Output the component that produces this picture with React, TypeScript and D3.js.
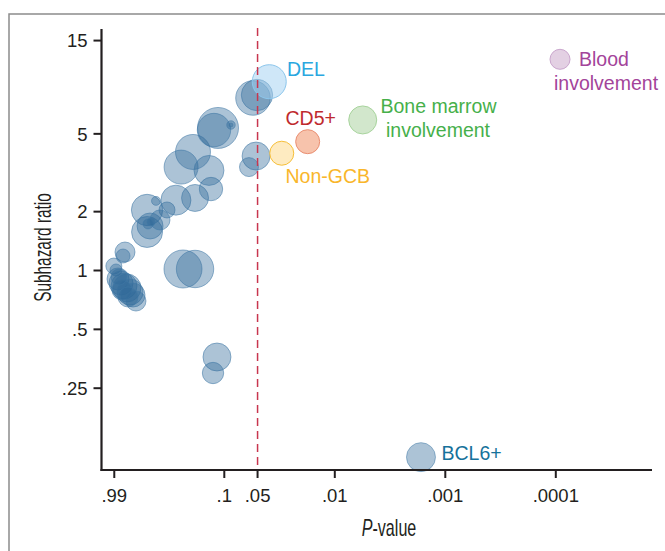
import React from "react";
import * as d3 from "d3";

// ---- data ----
const basePValues = [
  0.999, 0.955, 0.792, 0.825, 0.916, 0.861, 0.809, 0.76, 0.713, 0.67, 0.63, 0.843, 0.744, 0.897,
  0.5, 0.415, 0.33, 0.274, 0.184, 0.132, 0.5, 0.47, 0.382, 0.49, 0.461,
  0.192, 0.246, 0.1376, 0.114, 0.124, 0.087, 0.087, 0.055, 0.0506, 0.0516, 0.0598,
  0.2365, 0.184, 0.1165, 0.1265,
];
const baseRatios = [
  1.054, 1.006, 1.243, 1.186, 0.905, 0.863, 0.833, 0.814, 0.776, 0.749, 0.698, 0.795, 0.732, 0.926,
  2.04, 2.27, 2.04, 2.29, 2.35, 2.61, 1.574, 1.689, 1.813, 1.73, 1.77,
  4.04, 3.38, 3.25, 5.36, 5.23, 5.55, 5.55, 7.63, 7.9, 3.85, 3.38,
  1.018, 1.018, 0.361, 0.299,
];
const baseSizes = [
  64, 36, 100, 49, 121, 144, 169, 196, 169, 144, 100, 100, 100, 64,
  246, 20, 64, 225, 182, 137, 240, 169, 100, 25, 16,
  306, 289, 225, 420, 279, 18, 4, 299, 246, 196, 90,
  361, 350, 196, 114,
];

const labelNames = ["BCL6+", "DEL", "CD5+", "Non-GCB", "Bone marrow involvement", "Blood involvement"];
const labelPValues = [0.00166, 0.0392, 0.0176, 0.0302, 0.00559, 0.0000916];
const labelRatios = [0.111, 9.24, 4.56, 3.98, 5.89, 12.03];
const labelSizes = [210, 289, 144, 144, 196, 100];

const xTickValues = [0.99, 0.1, 0.05, 0.01, 0.001, 0.0001];
const xTickLabels = [".99", ".1", ".05", ".01", ".001", ".0001"];
const yTickValues = [15, 5, 2, 1, 0.5, 0.25];
const yTickLabels = ["15", "5", "2", "1", ".5", ".25"];
const significance = 0.05;

// ---- styles ----
const FONT = "'Liberation Sans', Arial, Helvetica, sans-serif";
const labelStyles = [
  { fill: "#2f6a99", fillOpacity: 0.4, stroke: "#4a82ab", text: "#16729b" },
  { fill: "#9fd0f2", fillOpacity: 0.5, stroke: "#8cc6ec", text: "#2aa7df" },
  { fill: "#f7c0a8", fillOpacity: 0.95, stroke: "#ea8f72", text: "#bf2a2e" },
  { fill: "#feeabe", fillOpacity: 0.95, stroke: "#f6bf3a", text: "#f9b62b" },
  { fill: "#d0e6c9", fillOpacity: 0.95, stroke: "#a8d49d", text: "#46b04a" },
  { fill: "#e1cde2", fillOpacity: 0.95, stroke: "#caa6cd", text: "#a3449a" },
];
// text layout per line
const labelLayout = [
  [{ t: "BCL6+", x: 441.5, y: 459.5, a: "start" }],
  [{ t: "DEL", x: 287, y: 76, a: "start" }],
  [{ t: "CD5+", x: 285.5, y: 124.5, a: "start" }],
  [{ t: "Non-GCB", x: 285.5, y: 182.7, a: "start" }],
  [
    { t: "Bone marrow", x: 438.5, y: 112.7, a: "middle" },
    { t: "involvement", x: 438, y: 136.7, a: "middle" },
  ],
  [
    { t: "Blood", x: 579, y: 66, a: "start" },
    { t: "involvement", x: 554, y: 90, a: "start" },
  ],
];

export default function App() {
  const W = 665;
  const H = 551;
  const axisLeft = 101.5;
  const axisBottom = 470;
  const axisTop = 29;
  const axisRight = 652;

  const x = d3.scaleLog().domain([1, 1e-4]).range([113.8, 555.8]);
  const y = d3.scaleLog().domain([1, 10]).range([270.5, 75]);
  const r = d3.scaleSqrt().domain([0, 400]).range([0, 20]);

  const base = basePValues.map((p, i) => ({ p, shr: baseRatios[i], size: baseSizes[i] }));
  const labeled = labelNames.map((n, i) => ({
    name: n,
    p: labelPValues[i],
    shr: labelRatios[i],
    size: labelSizes[i],
    style: labelStyles[i],
  }));

  const axisColor = "#231f20";

  return (
    <svg
      width={W}
      height={H}
      style={{ position: "fixed", left: 0, top: 0, background: "#fff" }}
      fontFamily={FONT}
    >
      <rect x={9} y={14} width={700} height={600} fill="#fff" stroke="#8c8c8c" strokeWidth={1.5} />

      {/* base bubbles */}
      <g>
        {base.map((d, i) => (
          <circle
            key={i}
            cx={x(d.p)}
            cy={y(d.shr)}
            r={r(d.size)}
            fill="#2f6a99"
            fillOpacity={0.4}
            stroke="#3f79a5"
            strokeOpacity={0.55}
            strokeWidth={1}
          />
        ))}
      </g>

      {/* labeled bubbles */}
      <g>
        {labeled.map((d, i) => (
          <circle
            key={i}
            cx={x(d.p)}
            cy={y(d.shr)}
            r={r(d.size)}
            fill={d.style.fill}
            fillOpacity={d.style.fillOpacity}
            stroke={d.style.stroke}
            strokeOpacity={i === 0 ? 0.55 : 1}
            strokeWidth={1}
          />
        ))}
      </g>

      {/* significance line */}
      <line
        x1={x(significance)}
        x2={x(significance)}
        y1={28}
        y2={axisBottom}
        stroke="#c8364f"
        strokeWidth={1.5}
        strokeDasharray="8,5"
      />

      {/* labels */}
      <g fontSize={19.5}>
        {labeled.map((d, i) =>
          labelLayout[i].map((l, j) => (
            <text key={i + "-" + j} x={l.x} y={l.y} textAnchor={l.a} fill={d.style.text}>
              {l.t}
            </text>
          ))
        )}
      </g>

      {/* axes */}
      <line x1={axisLeft} x2={axisLeft} y1={axisTop} y2={axisBottom + 1} stroke={axisColor} strokeWidth={2.2} />
      <line x1={axisLeft - 1} x2={axisRight} y1={axisBottom} y2={axisBottom} stroke={axisColor} strokeWidth={2.2} />

      {yTickValues.map((v, i) => (
        <g key={"y" + i}>
          <line x1={axisLeft - 8} x2={axisLeft} y1={y(v)} y2={y(v)} stroke={axisColor} strokeWidth={2} />
          <text x={87.5} y={y(v)} dy="0.36em" textAnchor="end" fontSize={18.5} fill="#231f20">
            {yTickLabels[i]}
          </text>
        </g>
      ))}
      {xTickValues.map((v, i) => (
        <g key={"x" + i}>
          <line x1={x(v)} x2={x(v)} y1={axisBottom} y2={axisBottom + 8} stroke={axisColor} strokeWidth={2} />
          <text x={x(v)} y={502} textAnchor="middle" fontSize={18.5} fill="#231f20">
            {xTickLabels[i]}
          </text>
        </g>
      ))}

      {/* axis titles */}
      <g transform="translate(51,247.5) rotate(-90) scale(0.67,1)">
        <text x={0} y={0} textAnchor="middle" fontSize={23} fill="#231f20">
          Subhazard ratio
        </text>
      </g>
      <g transform="translate(389,535.7) scale(0.7,1)">
        <text x={0} y={0} textAnchor="middle" fontSize={23} fill="#231f20">
          <tspan fontStyle="italic">P</tspan>-value
        </text>
      </g>
    </svg>
  );
}
